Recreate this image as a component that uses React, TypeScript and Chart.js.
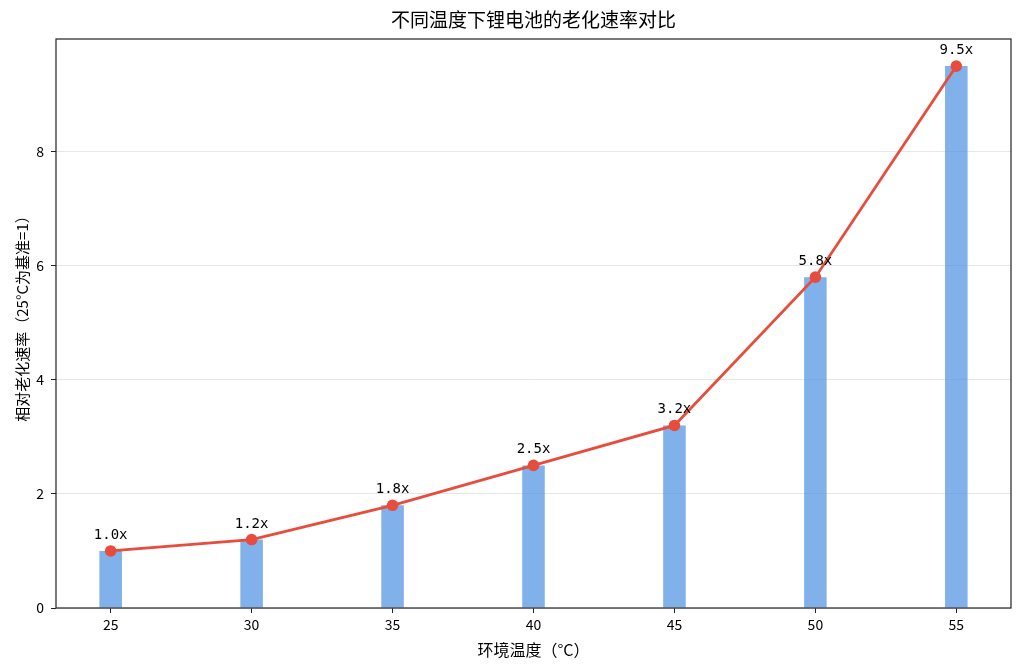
import React, { useEffect, useRef } from "react";
import { Chart, registerables } from "chart.js";

Chart.register(...registerables);

const temperatures = [25, 30, 35, 40, 45, 50, 55];
const agingRates = [1.0, 1.2, 1.8, 2.5, 3.2, 5.8, 9.5];
const rateLabels = ["1.0x", "1.2x", "1.8x", "2.5x", "3.2x", "5.8x", "9.5x"];
const xTickValues = [25, 30, 35, 40, 45, 50, 55];
const yTickValues = [0, 2, 4, 6, 8];

const TITLE = "不同温度下锂电池的老化速率对比";
const X_TITLE = "环境温度（°C）";
const Y_TITLE = "相对老化速率（25°C为基准=1）";
const FONT = "'Noto Sans CJK SC', 'DejaVu Sans', sans-serif";
const MONO = "'DejaVu Sans Mono', monospace";

export default function App() {
  const canvasRef = useRef<HTMLCanvasElement | null>(null);

  useEffect(() => {
    document.body.style.margin = "0";
    const canvas = canvasRef.current;
    if (!canvas) return;

    const framePlugin = {
      id: "frameAndLabels",
      afterDatasetsDraw(chart: any) {
        const { ctx } = chart;
        ctx.save();
        const meta = chart.getDatasetMeta(0);
        ctx.fillStyle = "#000";
        ctx.font = `14px ${MONO}`;
        ctx.textAlign = "center";
        ctx.textBaseline = "alphabetic";
        meta.data.forEach((pt: any, i: number) => {
          ctx.fillText(rateLabels[i], pt.x, pt.y - 12);
        });
        ctx.restore();
      },
      afterDraw(chart: any) {
        const { ctx, chartArea } = chart;
        ctx.save();
        ctx.strokeStyle = "#222";
        ctx.lineWidth = 1.2;
        ctx.strokeRect(
          chartArea.left,
          chartArea.top,
          chartArea.right - chartArea.left,
          chartArea.bottom - chartArea.top
        );
        ctx.fillStyle = "#000";
        ctx.font = `19px ${FONT}`;
        ctx.textAlign = "center";
        ctx.textBaseline = "middle";
        ctx.fillText(TITLE, (chartArea.left + chartArea.right) / 2, 20);
        // y axis title
        ctx.translate(22, 315);
        ctx.rotate(-Math.PI / 2);
        ctx.font = `15px ${FONT}`;
        ctx.fillText(Y_TITLE, 0, 0);
        ctx.restore();
      },
    };

    const chart = new Chart(canvas, {
      type: "bar",
      data: {
        datasets: [
          {
            type: "line",
            label: "line",
            data: temperatures.map((t, i) => ({ x: t, y: agingRates[i] })),
            borderColor: "#e74c3c",
            backgroundColor: "#e74c3c",
            borderWidth: 2.8,
            pointRadius: 5.8,
            pointHoverRadius: 5.8,
            pointBackgroundColor: "#e74c3c",
            pointBorderColor: "#e74c3c",
            pointBorderWidth: 0,
            tension: 0,
            order: 0,
          } as any,
          {
            type: "bar",
            label: "bar",
            data: temperatures.map((t, i) => ({ x: t, y: agingRates[i] })),
            backgroundColor: "rgba(74,144,226,0.7)",
            borderWidth: 0,
            barPercentage: 0.16,
            categoryPercentage: 1,
            order: 1,
          } as any,
        ],
      },
      options: {
        animation: false,
        responsive: false,
        maintainAspectRatio: false,
        layout: { padding: { top: 39, right: 13, bottom: 0, left: 0 } },
        plugins: {
          legend: { display: false },
          title: { display: false },
          tooltip: { enabled: false },
        },
        scales: {
          x: {
            type: "linear",
            min: 23.06,
            max: 56.94,
            offset: false,
            afterBuildTicks(scale: any) {
              scale.ticks = xTickValues.map((v) => ({ value: v }));
            },
            afterFit(scale: any) {
              scale.height = 63;
            },
            ticks: {
              font: { family: FONT, size: 14 },
              color: "#000",
              padding: 3,
              maxRotation: 0,
              autoSkip: false,
              callback: (v: any) => String(v),
            },
            grid: {
              display: true,
              offset: false,
              drawOnChartArea: false,
              drawTicks: true,
              tickLength: 5,
              tickColor: "#222",
            },
            border: { display: false },
            title: {
              display: true,
              text: X_TITLE,
              font: { family: FONT, size: 16 },
              color: "#000",
              padding: { top: 4, bottom: 11 },
            },
          },
          y: {
            type: "linear",
            min: 0,
            max: 9.975,
            afterBuildTicks(scale: any) {
              scale.ticks = yTickValues.map((v) => ({ value: v }));
            },
            afterFit(scale: any) {
              scale.width = 56;
            },
            ticks: {
              font: { family: FONT, size: 14 },
              color: "#000",
              padding: 7,
              callback: (v: any) => String(v),
            },
            grid: {
              display: true,
              drawOnChartArea: true,
              drawTicks: true,
              tickLength: 5,
              color: "rgba(200,200,200,0.45)",
              tickColor: "#222",
              lineWidth: 1,
            },
            border: { display: false },
            title: { display: false },
          },
        },
      },
      plugins: [framePlugin],
    });

    return () => {
      chart.destroy();
    };
  }, []);

  return (
    <div style={{ width: 1024, height: 671, background: "#fff" }}>
      <canvas ref={canvasRef} width={1024} height={671} style={{ width: 1024, height: 671, display: "block" }} />
    </div>
  );
}
